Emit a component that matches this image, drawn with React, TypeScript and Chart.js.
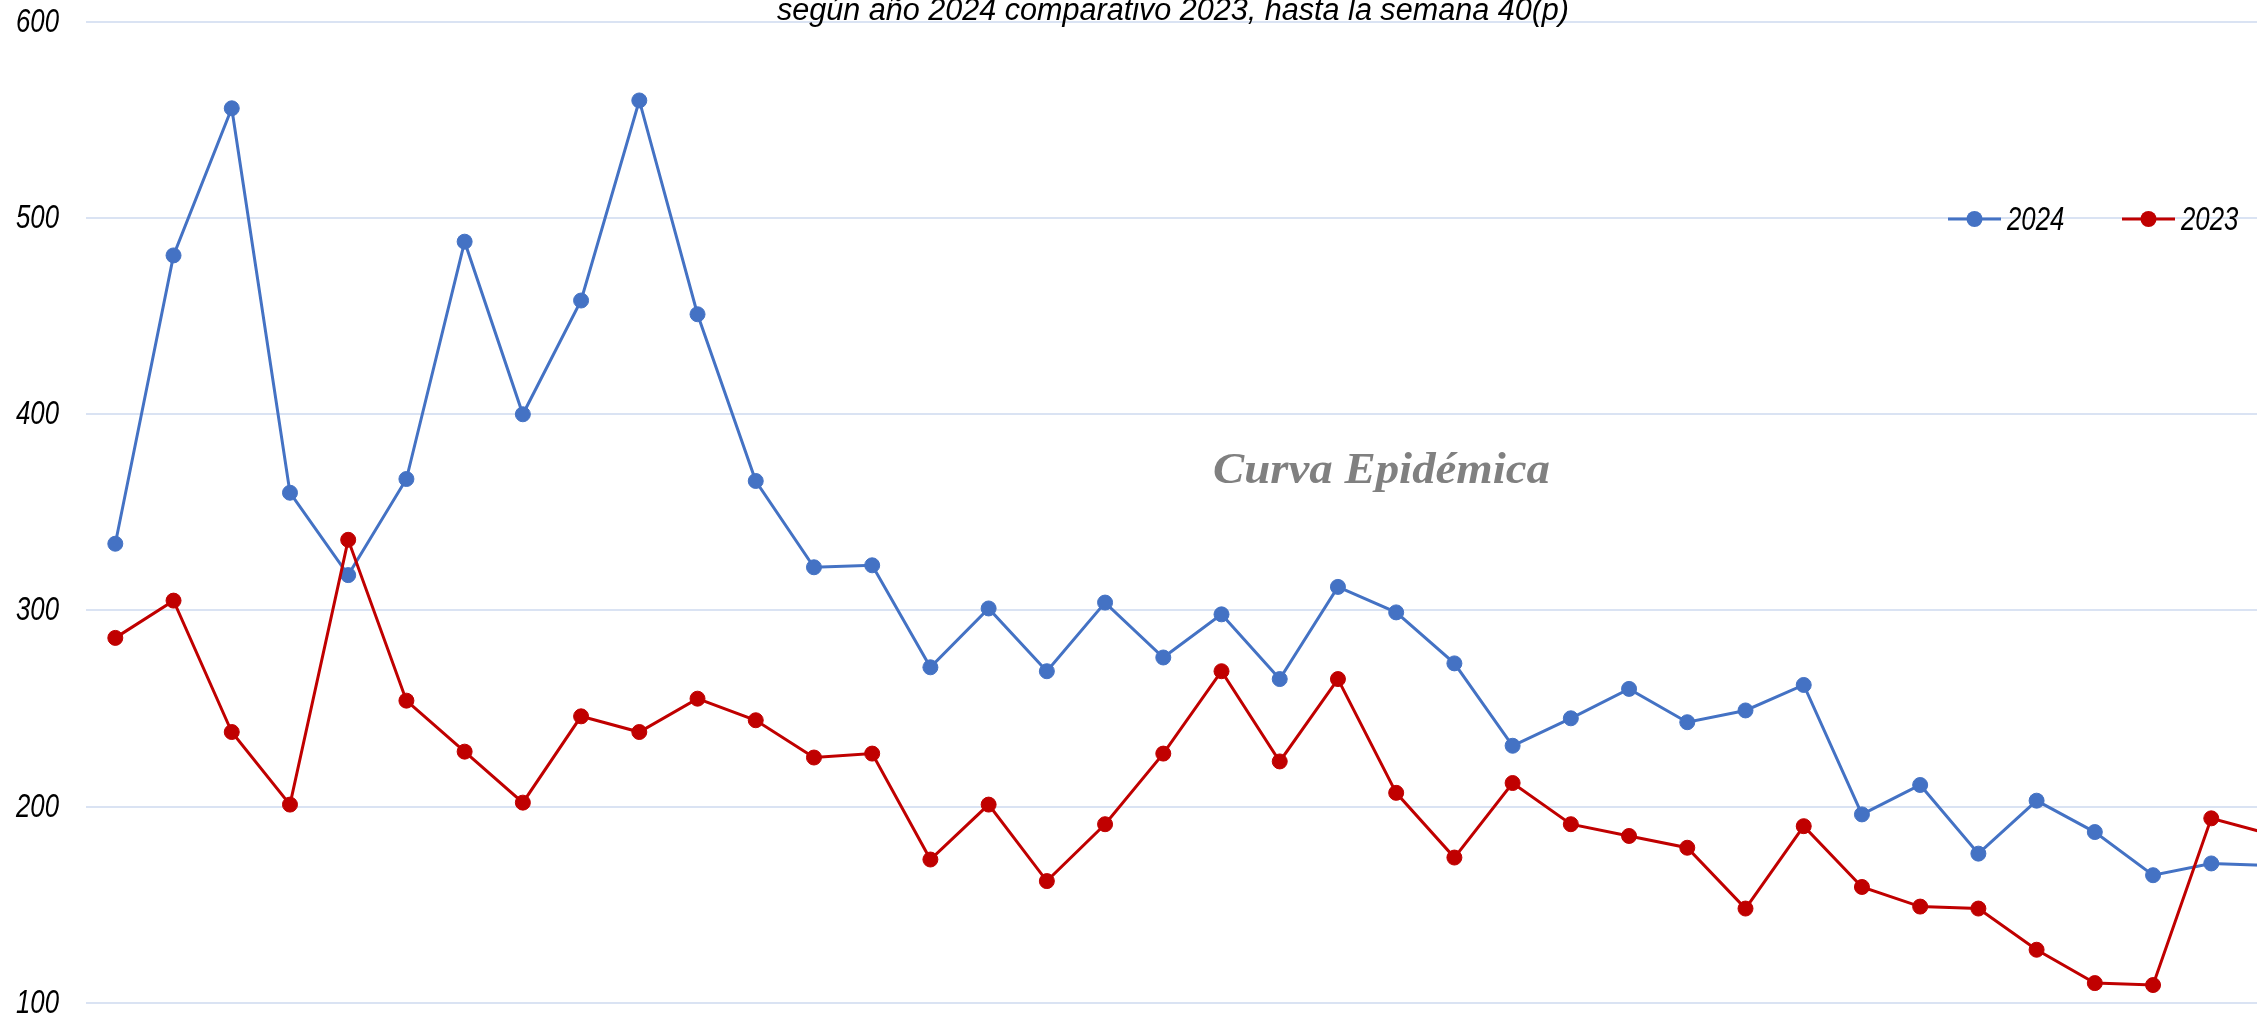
import React, { useEffect, useRef } from 'react';
import { Chart, registerables } from 'chart.js';

Chart.register(...registerables);

// ---- data ----
const weeks = ['1', '2', '3', '4', '5', '6', '7', '8', '9', '10', '11', '12', '13', '14', '15', '16', '17', '18', '19', '20', '21', '22', '23', '24', '25', '26', '27', '28', '29', '30', '31', '32', '33', '34', '35', '36', '37', '38'];
const series2024 = [334, 481, 556, 360, 318, 367, 488, 400, 458, 560, 451, 366, 322, 323, 271, 301, 269, 304, 276, 298, 265, 312, 299, 273, 231, 245, 260, 243, 249, 262, 196, 211, 176, 203, 187, 165, 171, 170];
const series2023 = [286, 305, 238, 201, 336, 254, 228, 202, 246, 238, 255, 244, 225, 227, 173, 201, 162, 191, 227, 269, 223, 265, 207, 174, 212, 191, 185, 179, 148, 190, 159, 149, 148, 127, 110, 109, 194, 186];
const seriesLabels = ['2024', '2023'];
const seriesColors = ['#4472C4', '#C00000'];
const yMin = 100;
const yMax = 600;
const yStep = 100;
const titleText = 'según año 2024 comparativo 2023, hasta la semana 40(p)';
const watermarkText = 'Curva Epidémica';

const FONT_FAMILY = '"Liberation Sans Narrow", "Arial Narrow", "Liberation Sans", Arial, sans-serif';
const NARROW = 0.78; // horizontal condensing for the narrow italic face

const overlayPlugin = {
  id: 'overlay',
  afterDraw(chart: any) {
    const ctx = chart.ctx as CanvasRenderingContext2D;

    // y tick labels (condensed italic)
    const ys = chart.scales.y;
    ctx.save();
    ctx.font = 'italic 33px ' + FONT_FAMILY;
    ctx.fillStyle = '#000000';
    ctx.textAlign = 'left';
    ctx.textBaseline = 'alphabetic';
    ys.ticks.forEach((t: any) => {
      const label = String(t.value);
      const w = ctx.measureText(label).width * NARROW;
      const py = ys.getPixelForValue(t.value);
      ctx.save();
      ctx.translate(59 - w, py + 10);
      ctx.scale(NARROW, 1);
      ctx.fillText(label, 0, 0);
      ctx.restore();
    });
    ctx.restore();

    // subtitle (cropped at top)
    ctx.save();
    ctx.font = 'italic 31px "Liberation Sans", Arial, sans-serif';
    ctx.fillStyle = '#000000';
    ctx.textAlign = 'left';
    ctx.textBaseline = 'alphabetic';
    const tw = ctx.measureText(titleText).width;
    ctx.translate(777, 19.5);
    ctx.scale(792 / tw, 1);
    ctx.fillText(titleText, 0, 0);
    ctx.restore();

    // watermark
    ctx.save();
    ctx.font = 'italic bold 44px "Liberation Serif", "DejaVu Serif", serif';
    ctx.fillStyle = '#808080';
    ctx.textAlign = 'left';
    ctx.textBaseline = 'alphabetic';
    const ww = ctx.measureText(watermarkText).width;
    ctx.translate(1213, 483);
    ctx.scale(337 / ww, 1);
    ctx.fillText(watermarkText, 0, 0);
    ctx.restore();

    // legend
    ctx.save();
    const legendY = 219;
    const legendX = [1948, 2122];
    chart.data.datasets.forEach((ds: any, i: number) => {
      const x0 = legendX[i];
      ctx.strokeStyle = ds.borderColor;
      ctx.lineWidth = 3;
      ctx.beginPath();
      ctx.moveTo(x0, legendY);
      ctx.lineTo(x0 + 53, legendY);
      ctx.stroke();
      ctx.fillStyle = ds.borderColor;
      ctx.beginPath();
      ctx.arc(x0 + 26.5, legendY, 8, 0, Math.PI * 2);
      ctx.fill();
      ctx.fillStyle = '#000000';
      ctx.font = 'italic 33px ' + FONT_FAMILY;
      ctx.textAlign = 'left';
      ctx.textBaseline = 'alphabetic';
      ctx.save();
      ctx.translate(x0 + 59, 230);
      ctx.scale(NARROW, 1);
      ctx.fillText(ds.label, 0, 0);
      ctx.restore();
    });
    ctx.restore();
  },
};

export default function App() {
  const canvasRef = useRef<HTMLCanvasElement | null>(null);

  useEffect(() => {
    document.body.style.margin = '0';
    const canvas = canvasRef.current;
    if (!canvas) return;
    const datasets = [series2024, series2023].map((values, i) => ({
      label: seriesLabels[i],
      data: values,
      borderColor: seriesColors[i],
      backgroundColor: seriesColors[i],
      pointBackgroundColor: seriesColors[i],
      pointBorderColor: seriesColors[i],
      pointBorderWidth: 1,
      pointRadius: 7.5,
      borderWidth: 3,
      tension: 0,
      fill: false,
      order: i === 1 ? 0 : 1,
    }));
    const chart = new Chart(canvas, {
      type: 'line',
      data: { labels: weeks, datasets },
      options: {
        responsive: false,
        animation: false,
        devicePixelRatio: 1,
        layout: { padding: { left: 0, top: 22, right: 11.4, bottom: 27.3 } },
        plugins: {
          legend: { display: false },
          title: { display: false },
          tooltip: { enabled: false },
        },
        scales: {
          x: {
            type: 'category',
            offset: true,
            grid: { display: false },
            border: { display: false },
            ticks: { display: false },
            afterFit: (s: any) => {
              s.height = 0;
              s.paddingLeft = 0;
              s.paddingRight = 0;
            },
          },
          y: {
            min: yMin,
            max: yMax,
            border: { display: false },
            grid: { color: '#DAE3F3', lineWidth: 2, drawTicks: false },
            ticks: { stepSize: yStep, display: false },
            afterFit: (s: any) => {
              s.width = 86.2;
              s.paddingTop = 0;
              s.paddingBottom = 0;
            },
          },
        },
      },
      plugins: [overlayPlugin],
    });
    return () => chart.destroy();
  }, []);

  return (
    <div style={{ position: 'fixed', left: 0, top: 0, width: 2257, height: 1022, overflow: 'hidden', background: '#ffffff' }}>
      <canvas
        ref={canvasRef}
        width={2310}
        height={1030}
        style={{ position: 'absolute', left: 0, top: 0, width: 2310, height: 1030 }}
      />
    </div>
  );
}
